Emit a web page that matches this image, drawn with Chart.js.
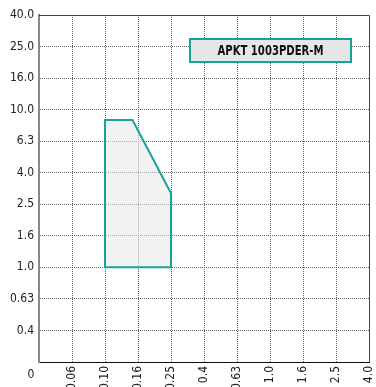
<!DOCTYPE html>
<html>
<head>
<meta charset="utf-8">
<script src="https://cdn.jsdelivr.net/npm/chart.js@4.4.1/dist/chart.umd.min.js"></script>
<style>
  html, body { margin: 0; padding: 0; background: #fff; overflow: hidden; }
  #wrap { width: 376px; height: 387px; overflow: hidden; }
</style>
</head>
<body>
<div id="wrap"><canvas id="chart" width="376" height="392"></canvas></div>
<script>
// tick values of both axes (evenly spaced on the picture)
const X_TICKS = [0, 0.06, 0.10, 0.16, 0.25, 0.4, 0.63, 1.0, 1.6, 2.5, 4.0];
const Y_TICKS = [0, 0.4, 0.63, 1.0, 1.6, 2.5, 4.0, 6.3, 10.0, 16.0, 25.0, 40.0];
const X_LABELS = ["", "0.06", "0.10", "0.16", "0.25", "0.4", "0.63", "1.0", "1.6", "2.5", "4.0"];
const Y_LABELS = ["", "0.4", "0.63", "1.0", "1.6", "2.5", "4.0", "6.3", "10.0", "16.0", "25.0", "40.0"];

// working area outline: feed fz (x) and depth ap (y), closed
const FZ = [0.10, 0.10, 0.148, 0.25, 0.25, 0.10];
const AP = [1.0, 8.6, 8.6, 2.95, 1.0, 1.0];
const SERIES_NAME = "APKT 1003PDER-M";

const TEAL = "#16a39a";
const FONT = "'Liberation Sans Narrow', 'DejaVu Sans Condensed', 'DejaVu Sans', sans-serif";

// value -> position on the evenly spaced tick grid (log between ticks)
function toIndex(v, ticks) {
  for (let i = 0; i < ticks.length - 1; i++) {
    const a = ticks[i], b = ticks[i + 1];
    if (v >= a && v <= b) {
      if (a <= 0) return i + (v - a) / (b - a);
      return i + Math.log(v / a) / Math.log(b / a);
    }
  }
  return ticks.length - 1;
}

const points = FZ.map((f, i) => ({ x: toIndex(f, X_TICKS), y: toIndex(AP[i], Y_TICKS) }));

const lastX = X_TICKS.length - 1;
const lastY = Y_TICKS.length - 1;

const extras = {
  id: "extras",
  afterDraw(chart) {
    const c = chart.ctx;
    const a = chart.chartArea;
    c.save();
    // frame top and right
    c.strokeStyle = "#444";
    c.lineWidth = 1;
    c.beginPath();
    c.moveTo(a.left, a.top + 0.5);
    c.lineTo(a.right + 0.5, a.top + 0.5);
    c.lineTo(a.right + 0.5, a.bottom);
    c.stroke();
    // corner zero
    c.fillStyle = "#222";
    c.font = "12px " + FONT;
    c.textAlign = "center";
    c.textBaseline = "middle";
    c.fillText("0", a.left - 8, a.bottom + 13);
    // series box
    const bx = a.right - 179, by = a.top + 24, bw = 161, bh = 23;
    c.fillStyle = "#e6e6e6";
    c.fillRect(bx, by, bw, bh);
    c.strokeStyle = TEAL;
    c.lineWidth = 2;
    c.strokeRect(bx, by, bw, bh);
    c.fillStyle = "#111";
    c.font = "bold 14px " + FONT;
    const tw = c.measureText(SERIES_NAME).width;
    const sx = Math.min(1, 106 / tw);
    c.translate(bx + bw / 2, by + bh / 2 + 1);
    c.scale(sx, 1);
    c.fillText(SERIES_NAME, 0, 0);
    c.restore();
  }
};

new Chart(document.getElementById("chart"), {
  type: "line",
  data: {
    datasets: [{
      label: SERIES_NAME,
      data: points,
      borderColor: TEAL,
      backgroundColor: "rgba(232, 232, 232, 0.55)",
      borderWidth: 2,
      pointRadius: 0,
      tension: 0,
      fill: "shape"
    }]
  },
  options: {
    responsive: false,
    animation: false,
    layout: { padding: { top: 15, right: 7, left: 0, bottom: 0 } },
    plugins: { legend: { display: false }, tooltip: { enabled: false } },
    scales: {
      x: {
        type: "linear",
        min: 0,
        max: lastX,
        afterBuildTicks: (s) => { s.ticks = X_TICKS.map((_, i) => ({ value: i })); },
        afterFit: (s) => {
          s.height = 30;
          s.paddingLeft = 0;
          s.paddingRight = 0;
        },
        ticks: {
          autoSkip: false,
          minRotation: 90,
          maxRotation: 90,
          padding: 4,
          color: "#222",
          font: { family: FONT, size: 12 },
          callback: (v) => X_LABELS[v]
        },
        grid: {
          drawTicks: false,
          color: (ctx) => (ctx.index === lastX ? "rgba(0,0,0,0)" : "#666")
        },
        border: { display: true, color: "#111", width: 1, dash: [1, 1] }
      },
      y: {
        type: "linear",
        min: 0,
        max: lastY,
        afterBuildTicks: (s) => { s.ticks = Y_TICKS.map((_, i) => ({ value: i })); },
        afterFit: (s) => {
          s.width = 39;
          s.paddingTop = 0;
          s.paddingBottom = 0;
        },
        ticks: {
          autoSkip: false,
          padding: 5,
          color: "#222",
          font: { family: FONT, size: 12 },
          callback: (v) => Y_LABELS[v]
        },
        grid: {
          drawTicks: false,
          color: (ctx) => (ctx.index === lastY ? "rgba(0,0,0,0)" : "#666")
        },
        border: { display: true, color: "#888", width: 2, dash: [1, 1] }
      }
    }
  },
  plugins: [extras]
});
</script>
</body>
</html>
